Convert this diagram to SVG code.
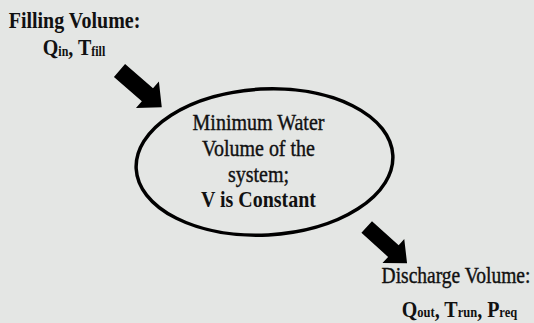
<svg xmlns="http://www.w3.org/2000/svg" width="534" height="323" viewBox="0 0 534 323">
<style>
.t{font-family:"Liberation Serif","Times New Roman",serif;fill:#111;text-anchor:middle}
.r{stroke:#111;stroke-width:0.35}
.b{font-weight:bold}
.arrow{fill:#000}
</style>
<defs>
<polygon id="arr" points="0,-8.5 37,-8.5 37,-17.5 56,0 37,17.5 37,8.5 0,8.5"/>
</defs>
<rect width="534" height="323" fill="#e4e6e4"/>
<g id="connectors">
<use href="#arr" class="arrow" transform="translate(119.5,70.5) rotate(41)"/>
<use href="#arr" class="arrow" transform="translate(366.7,227) rotate(42) scale(0.97,0.93)"/>
</g>
<g id="system">
<ellipse cx="264.5" cy="162" rx="128.5" ry="73" fill="none" stroke="#000" stroke-width="3.5" transform="rotate(-3 264.5 162)"/>
<g transform="translate(258.5,130) scale(1,1.15)"><text class="t r" font-size="20">Minimum Water</text></g>
<g transform="translate(258.5,156) scale(1,1.15)"><text class="t r" font-size="20">Volume of the</text></g>
<g transform="translate(258.5,181.5) scale(1,1.15)"><text class="t r" font-size="20">system;</text></g>
<g transform="translate(258.5,206.5) scale(1,1.15)"><text class="t b" font-size="20" textLength="115" lengthAdjust="spacingAndGlyphs">V is Constant</text></g>
</g>
<g id="filling">
<g transform="translate(74.5,28) scale(1,1.15)"><text class="t b" font-size="20">Filling Volume:</text></g>
<g transform="translate(74,55) scale(1,1.15)"><text class="t b" font-size="20">Q<tspan font-size="12" dy="1">in</tspan><tspan dy="-1">, T</tspan><tspan font-size="12" dy="1">fill</tspan></text></g>
</g>
<g id="discharge">
<g transform="translate(456,283) scale(1,1.15)"><text class="t r" font-size="19.5">Discharge Volume:</text></g>
<g transform="translate(459.5,316.5) scale(1,1.15)"><text class="t b" font-size="20">Q<tspan font-size="12.5">out</tspan>, T<tspan font-size="12.5">run</tspan>, P<tspan font-size="12.5">req</tspan></text></g>
</g>
</svg>
